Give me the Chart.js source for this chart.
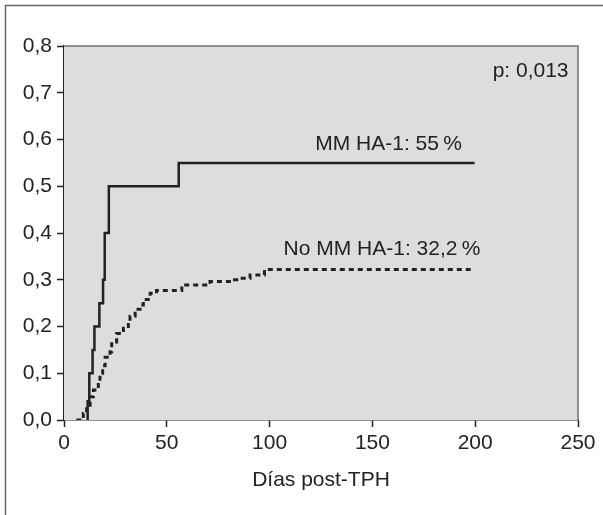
<!DOCTYPE html>
<html>
<head>
<meta charset="utf-8">
<script src="https://cdn.jsdelivr.net/npm/chart.js@4.4.0/dist/chart.umd.min.js"></script>
<style>
  html, body { margin: 0; padding: 0; background: #fff; }
  canvas { display: block; }
</style>
</head>
<body>
<canvas id="incidenceChart" width="603" height="515"></canvas>
<script>
// Incidencia acumulada (días post-TPH)
const mmDays   = [11.5, 11.5, 12.3, 13.9, 14.8, 17.2, 19.0, 19.8, 21.8, 55.8, 199.7];
const mmValues = [0, 0.04, 0.10, 0.15, 0.20, 0.25, 0.30, 0.40, 0.50, 0.55, 0.55];

const noMmDays   = [6, 9.4, 11, 12.7, 14.3, 16.7, 17.5, 18.8, 20, 22.4, 23.2, 25.6, 28.9, 31.3, 32.1, 34.6, 37, 38.6, 41.9, 45, 57.3, 71, 81.6, 84, 90.5, 97.5, 197.8];
const noMmValues = [0, 0.014, 0.028, 0.05, 0.064, 0.082, 0.10, 0.116, 0.134, 0.146, 0.167, 0.185, 0.196, 0.208, 0.222, 0.237, 0.246, 0.258, 0.271, 0.277, 0.289, 0.296, 0.30, 0.303, 0.31, 0.322, 0.322];

const xTicks = [0, 50, 100, 150, 200, 250];
const yTicks = [0, 0.1, 0.2, 0.3, 0.4, 0.5, 0.6, 0.7, 0.8];

// etiquetas dentro del gráfico: [texto, día (borde derecho), valor]
const notes = [
    ["p: 0,013", 245.4, 0.746],
    ["MM HA-1: 55\u2009%", 193.5, 0.59],
    ["No MM HA-1: 32,2\u2009%", 202.5, 0.366],
];

const FONT = "'Liberation Sans', Arial, Helvetica, sans-serif";
const INK = "#222";

const toPoints = (xs, ys) => xs.map((x, i) => ({ x, y: ys[i] }));

const framePlugin = {
    id: "frame",
    beforeDraw(chart) {
        const { ctx, width, height } = chart;
        ctx.save();
        ctx.fillStyle = "#fff";
        ctx.fillRect(0, 0, width, height);
        ctx.strokeStyle = "#666";
        ctx.lineWidth = 1.5;
        ctx.beginPath();
        ctx.moveTo(5.5, height);
        ctx.lineTo(5.5, 5.5);
        ctx.lineTo(width, 5.5);
        ctx.stroke();
        ctx.restore();
    },
    beforeDatasetsDraw(chart) {
        const { ctx, chartArea: a } = chart;
        ctx.save();
        ctx.fillStyle = "#dcdddf";
        ctx.fillRect(a.left, a.top, a.right - a.left, a.bottom - a.top);
        ctx.strokeStyle = "#707070";
        ctx.lineWidth = 1.5;
        ctx.beginPath();
        ctx.moveTo(a.left, a.top);
        ctx.lineTo(a.right, a.top);
        ctx.lineTo(a.right, a.bottom);
        ctx.stroke();
        ctx.restore();
    },
    afterDatasetsDraw(chart) {
        const { ctx, scales } = chart;
        ctx.save();
        ctx.fillStyle = INK;
        ctx.font = "21px " + FONT;
        ctx.textAlign = "right";
        ctx.textBaseline = "middle";
        notes.forEach(([text, day, value]) => {
            ctx.fillText(text, scales.x.getPixelForValue(day), scales.y.getPixelForValue(value));
        });
        ctx.restore();
    },
};

const ctx = document.getElementById("incidenceChart").getContext("2d");

new Chart(ctx, {
    type: "line",
    data: {
        datasets: [
            {
                label: "MM HA-1",
                data: toPoints(mmDays, mmValues),
                borderColor: INK,
                borderWidth: 2.5,
                stepped: "before",
                pointRadius: 0,
                fill: false,
            },
            {
                label: "No MM HA-1",
                data: toPoints(noMmDays, noMmValues),
                borderColor: INK,
                borderWidth: 3,
                borderDash: [5, 4],
                stepped: "before",
                pointRadius: 0,
                fill: false,
            },
        ],
    },
    options: {
        responsive: false,
        animation: false,
        layout: { padding: { top: 46, right: 25, left: 0, bottom: 0 } },
        scales: {
            x: {
                type: "linear",
                min: 0,
                max: 250,
                afterFit: (scale) => { scale.height = 95; },
                afterBuildTicks: (scale) => { scale.ticks = xTicks.map((v) => ({ value: v })); },
                border: { display: true, color: INK, width: 1.5 },
                grid: { drawOnChartArea: false, drawTicks: true, tickLength: 7, tickColor: INK, tickWidth: 1.5 },
                ticks: {
                    color: INK,
                    padding: 4,
                    maxRotation: 0,
                    font: { family: FONT, size: 21 },
                },
                title: {
                    display: true,
                    text: "Días post-TPH",
                    color: INK,
                    font: { family: FONT, size: 21 },
                    padding: { top: 0, bottom: 22 },
                },
            },
            y: {
                type: "linear",
                min: 0,
                max: 0.8,
                afterFit: (scale) => { scale.width = 64; },
                afterBuildTicks: (scale) => { scale.ticks = yTicks.map((v) => ({ value: v })); },
                border: { display: true, color: INK, width: 1.5 },
                grid: { drawOnChartArea: false, drawTicks: true, tickLength: 7, tickColor: INK, tickWidth: 1.5 },
                ticks: {
                    color: INK,
                    padding: 5,
                    font: { family: FONT, size: 21 },
                    callback: (v) => Number(v).toFixed(1).replace(".", ","),
                },
            },
        },
        plugins: {
            legend: { display: false },
            tooltip: { enabled: false },
        },
    },
    plugins: [framePlugin],
});
</script>
</body>
</html>
